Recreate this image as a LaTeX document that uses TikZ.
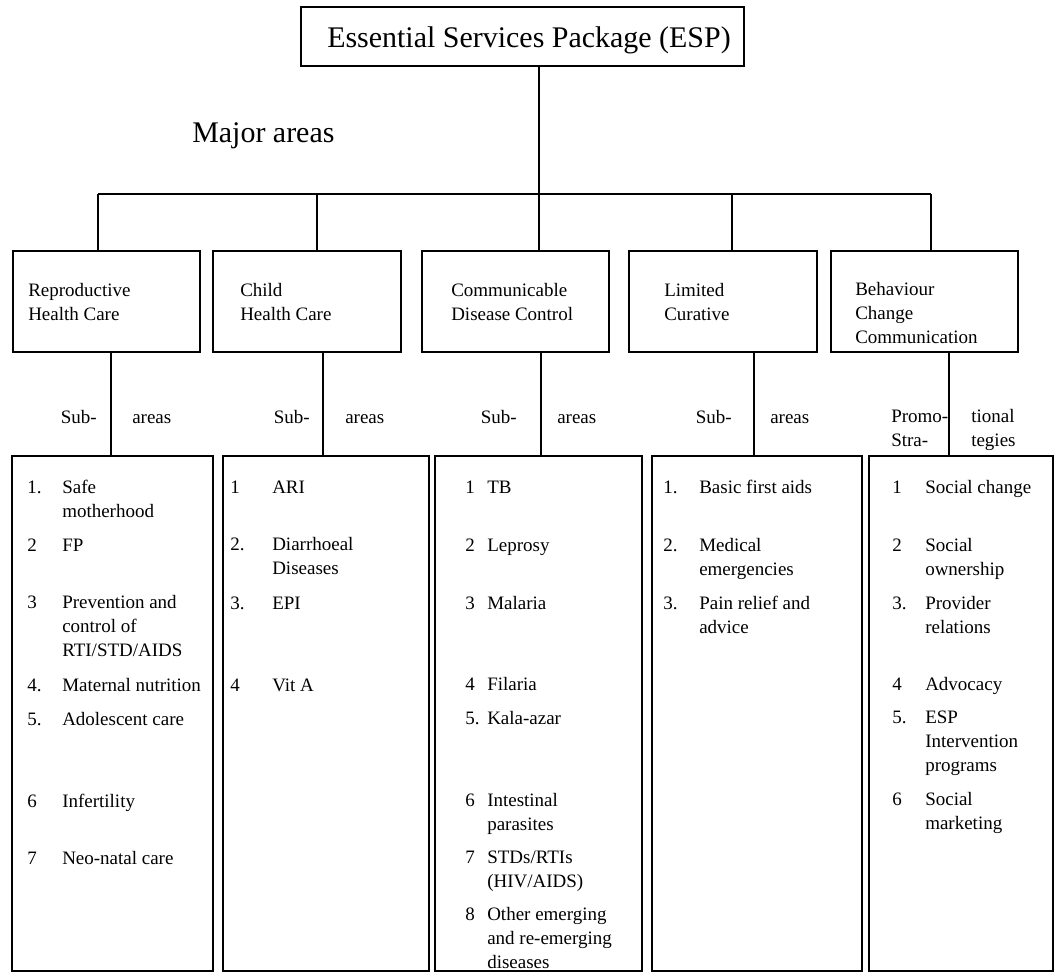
\documentclass[tikz,border=0pt]{standalone}
\usepackage{fontspec}
\setmainfont{Liberation Serif}
\usetikzlibrary{positioning,fit}

% lines that hang from the first baseline
\newcommand{\toplines}[1]{\begin{tabular}[t]{@{}l@{}}#1\end{tabular}}

\tikzset{
  areabox/.style={draw, line width=1.1pt, inner sep=0pt},
  link/.style={line width=1.1pt},
  boxtext/.style={font=\fontsize{13.5}{17.2}\selectfont, anchor=base west, inner sep=0pt},
  bigtext/.style={font=\fontsize{21.3}{26}\selectfont, inner sep=0pt},
}

\begin{document}
\begin{tikzpicture}[x=0.025cm, y=-0.025cm]
  \useasboundingbox (0,0) rectangle (1055,973);

  % package and heading
  \node[areabox, fit={(301,7) (744,66)}] (esp) {};
  \node[bigtext, anchor=base] (esptext) at (529,47) {Essential Services Package (ESP)};
  \node[bigtext, anchor=base west] (major) at (192,142) {Major areas};

  % major areas
  \node[areabox, fit={(13,251) (200,352)}] (rhc) {};
  \node[areabox, fit={(213,251) (401,352)}] (chc) {};
  \node[areabox, fit={(422,251) (609,352)}] (cdc) {};
  \node[areabox, fit={(629,251) (817,352)}] (lc) {};
  \node[areabox, fit={(831,251) (1018,352)}] (bcc) {};
  \node[boxtext] at (28,296) {\toplines{Reproductive\\Health Care}};
  \node[boxtext] at (240,296) {\toplines{Child\\Health Care}};
  \node[boxtext] at (451,296) {\toplines{Communicable\\Disease Control}};
  \node[boxtext] at (664,296) {\toplines{Limited\\Curative}};
  \node[boxtext] at (855,295) {\toplines{Behaviour\\Change\\Communication}};

  \coordinate (j1) at (98,194);
  \coordinate (j2) at (317,194);
  \coordinate (j3) at (539,194);
  \coordinate (j4) at (732,194);
  \coordinate (j5) at (931,194);
  \draw[link] (j3 |- esp.south) -- (j3);
  \draw[link] (j1) -- (j5);
  \foreach \j/\b in {j1/rhc, j2/chc, j3/cdc, j4/lc, j5/bcc}
    \draw[link] (\j) -- (\j |- \b.north);

  % sub-areas
  \node[areabox, fit={(12,456) (213,971)}] (rhcl) {};
  \node[areabox, fit={(223,456) (429,971)}] (chcl) {};
  \node[areabox, fit={(435,456) (642,971)}] (cdcl) {};
  \node[areabox, fit={(652,456) (862,971)}] (lcl) {};
  \node[areabox, fit={(869,456) (1053,971)}] (bccl) {};

  \coordinate (s1) at (111,423);
  \coordinate (s2) at (323,423);
  \coordinate (s3) at (541,423);
  \coordinate (s4) at (754,423);
  \coordinate (s5) at (949,423);
  \foreach \s/\a/\b in {s1/rhc/rhcl, s2/chc/chcl, s3/cdc/cdcl, s4/lc/lcl, s5/bcc/bccl}
    \draw[link] (\s |- \a.south) -- (\s |- \b.north);

  \node[boxtext, anchor=base east] at (97,423) {Sub-};
  \node[boxtext] at (132,423) {areas};
  \node[boxtext, anchor=base east] at (310,423) {Sub-};
  \node[boxtext] at (345,423) {areas};
  \node[boxtext, anchor=base east] at (517,423) {Sub-};
  \node[boxtext] at (557,423) {areas};
  \node[boxtext, anchor=base east] at (732,423) {Sub-};
  \node[boxtext] at (770,423) {areas};
  \node[boxtext] at (891,422) {\toplines{Promo-\\Stra-}};
  \node[boxtext] at (971,422) {\toplines{tional\\tegies}};

  % items
  \foreach \nr/\yy/\txt in {1./493/{Safe\\motherhood}, 2/551/FP,
      3/608/{Prevention and\\control of\\RTI/STD/AIDS}, 4./691/{Maternal nutrition},
      5./725/{Adolescent care}, 6/807/Infertility, 7/864/{Neo-natal care}}{
    \node[boxtext] at (27,\yy) {\nr};
    \node[boxtext] at (62,\yy) {\toplines{\txt}};
  }
  \foreach \nr/\yy/\txt in {1/493/ARI, 2./550/{Diarrhoeal\\Diseases}, 3./609/EPI, 4/691/{Vit A}}{
    \node[boxtext] at (230,\yy) {\nr};
    \node[boxtext] at (272,\yy) {\toplines{\txt}};
  }
  \foreach \nr/\yy/\txt in {1/493/TB, 2/551/Leprosy, 3/609/Malaria, 4/690/Filaria,
      5./724/Kala-azar, 6/806/{Intestinal\\parasites}, 7/863/{STDs/RTIs\\(HIV/AIDS)},
      8/920/{Other emerging\\and re-emerging\\diseases}}{
    \node[boxtext] at (465,\yy) {\nr};
    \node[boxtext] at (487,\yy) {\toplines{\txt}};
  }
  \foreach \nr/\yy/\txt in {1./493/{Basic first aids}, 2./551/{Medical\\emergencies},
      3./609/{Pain relief and\\advice}}{
    \node[boxtext] at (663,\yy) {\nr};
    \node[boxtext] at (699,\yy) {\toplines{\txt}};
  }
  \foreach \nr/\yy/\txt in {1/493/{Social change}, 2/551/{Social\\ownership},
      3./609/{Provider\\relations}, 4/690/Advocacy, 5./723/{ESP\\Intervention\\programs},
      6/805/{Social\\marketing}}{
    \node[boxtext] at (892,\yy) {\nr};
    \node[boxtext] at (925,\yy) {\toplines{\txt}};
  }
\end{tikzpicture}
\end{document}
